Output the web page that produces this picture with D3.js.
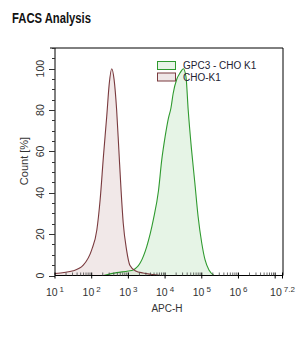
<!DOCTYPE html>
<html><head><meta charset="utf-8">
<script src="https://cdn.jsdelivr.net/npm/d3@7"></script>
<style>body{margin:0;background:#fff}svg{display:block}text{font-family:"Liberation Sans",Arial,sans-serif}</style>
</head><body>
<svg id="c" width="297" height="337"></svg>
<script>
// Data (x given as log10 of APC-H)
const choLog   = [1.0,1.5,1.77,2.0,2.14,2.23,2.32,2.41,2.48,2.545,2.61,2.68,2.74,2.80,2.86,2.95,3.04,3.2,3.4,3.6,3.9];
const choCount = [1.0,2.3,5.0,12.4,22,36.6,57.6,77,93,100,94.8,80,60.8,41.4,25.3,12.4,5,2.2,1.2,0.6,0];
const gpcLog   = [2.32,2.68,3.0,3.13,3.32,3.5,3.68,3.82,3.91,4.0,4.09,4.16,4.22,4.32,4.41,4.50,4.57,4.63,4.72,4.81,4.90,5.0,5.09,5.2,5.33];
const gpcCount = [0,1.4,2.2,2.7,6,14,27,41,56,67,76,81,88,95,98,100,96,80,61,45,28.5,15.6,7.5,2.5,0];
const xTickExp = ["1","2","3","4","5","6","7.2"];
const yTicks = [0,20,40,60,80,100];
const seriesNames = ["GPC3 - CHO K1","CHO-K1"];

const svg = d3.select("#c");
const L=55, R=282.5, T=48, B=275.5;
const x = d3.scaleLog().domain([10, Math.pow(10,7.2)]).range([L,R]);
const y = d3.scaleLinear().domain([0,110]).range([B,T]);

svg.append("text").attr("x",12).attr("y",23).attr("font-size",14).attr("font-weight","bold")
  .attr("textLength",79).attr("lengthAdjust","spacingAndGlyphs").attr("fill","#111").text("FACS Analysis");

const area = d3.area().x(d=>x(Math.pow(10,d[0]))).y0(y(0)).y1(d=>y(d[1])).curve(d3.curveMonotoneX);
const line = d3.line().x(d=>x(Math.pow(10,d[0]))).y(d=>y(d[1])).curve(d3.curveMonotoneX);
const cho = choLog.map((v,i)=>[v,choCount[i]]);
const gpc = gpcLog.map((v,i)=>[v,gpcCount[i]]);
const cols = {gpc:{s:"#2f9a2f",f:"rgba(200,230,200,0.45)"}, cho:{s:"#7a3a3e",f:"rgba(225,205,205,0.45)"}};

svg.append("path").datum(cho).attr("d",area).attr("fill",cols.cho.f);
svg.append("path").datum(gpc).attr("d",area).attr("fill",cols.gpc.f);
svg.append("path").datum(gpc).attr("d",line).attr("fill","none").attr("stroke",cols.gpc.s).attr("stroke-width",1.1);
svg.append("path").datum(cho).attr("d",line).attr("fill","none").attr("stroke",cols.cho.s).attr("stroke-width",1.1);

// frame
svg.append("line").attr("x1",50).attr("x2",R+0.5).attr("y1",T).attr("y2",T).attr("stroke","#000");
svg.append("line").attr("x1",R+0.5).attr("x2",R+0.5).attr("y1",T).attr("y2",B).attr("stroke","#000");
svg.append("line").attr("x1",L).attr("x2",L).attr("y1",T).attr("y2",B).attr("stroke","#000");
svg.append("line").attr("x1",L).attr("x2",R+0.5).attr("y1",B).attr("y2",B).attr("stroke","#000");

// y ticks
const yMinor = d3.range(0,111,5);
svg.selectAll(".ym").data(yMinor).join("line").attr("x1",d=>d%20===0?L-6:L-3).attr("x2",L)
  .attr("y1",d=>Math.round(y(d))+0.5).attr("y2",d=>Math.round(y(d))+0.5).attr("stroke","#333").attr("stroke-width",1);
svg.selectAll(".yl").data(yTicks).join("text").attr("transform",d=>`translate(44,${y(d)}) rotate(-90)`)
  .attr("text-anchor","middle").attr("font-size",10.5).attr("fill","#333").text(d=>d);
svg.append("text").attr("transform",`translate(28,161) rotate(-90)`).attr("text-anchor","middle")
  .attr("font-size",11).attr("fill","#333").text("Count [%]");

// x ticks
const minor=[];
for(let e=1;e<7.2;e++) for(let k=2;k<10;k++){const v=k*Math.pow(10,e); if(Math.log10(v)<7.2) minor.push(v);}
svg.selectAll(".xm").data(minor).join("line").attr("x1",d=>x(d)).attr("x2",d=>x(d)).attr("y1",B-3).attr("y2",B)
  .attr("stroke","#444").attr("stroke-width",0.8);
const majors = d3.range(1,8).map(e=>Math.pow(10,e)).concat([Math.pow(10,7.2)]);
svg.selectAll(".xM").data(majors).join("line").attr("x1",d=>x(d)).attr("x2",d=>x(d)).attr("y1",B-3).attr("y2",B+3)
  .attr("stroke","#000").attr("stroke-width",1);
const xl = svg.selectAll(".xl").data(xTickExp).join("text").attr("x",d=>x(Math.pow(10,+d))).attr("y",296)
  .attr("text-anchor","middle").attr("font-size",10.5).attr("fill","#333");
xl.append("tspan").text("10");
xl.append("tspan").attr("dx",2).attr("dy",-4).attr("font-size",8).text(d=>d);
svg.append("text").attr("x",167).attr("y",312).attr("text-anchor","middle").attr("font-size",10).attr("fill","#333").text("APC-H");

// legend
const lg = [{n:seriesNames[0],c:cols.gpc,f:"#e7f3e7"},{n:seriesNames[1],c:cols.cho,f:"#efe7e7"}];
lg.forEach((d,i)=>{
  svg.append("rect").attr("x",157.5).attr("y",61.5+i*11.5).attr("width",18).attr("height",8).attr("fill",d.f).attr("stroke",d.c.s);
  svg.append("text").attr("x",183).attr("y",69+i*11.5).attr("font-size",10).attr("fill","#223").text(d.n);
});
</script></body></html>
